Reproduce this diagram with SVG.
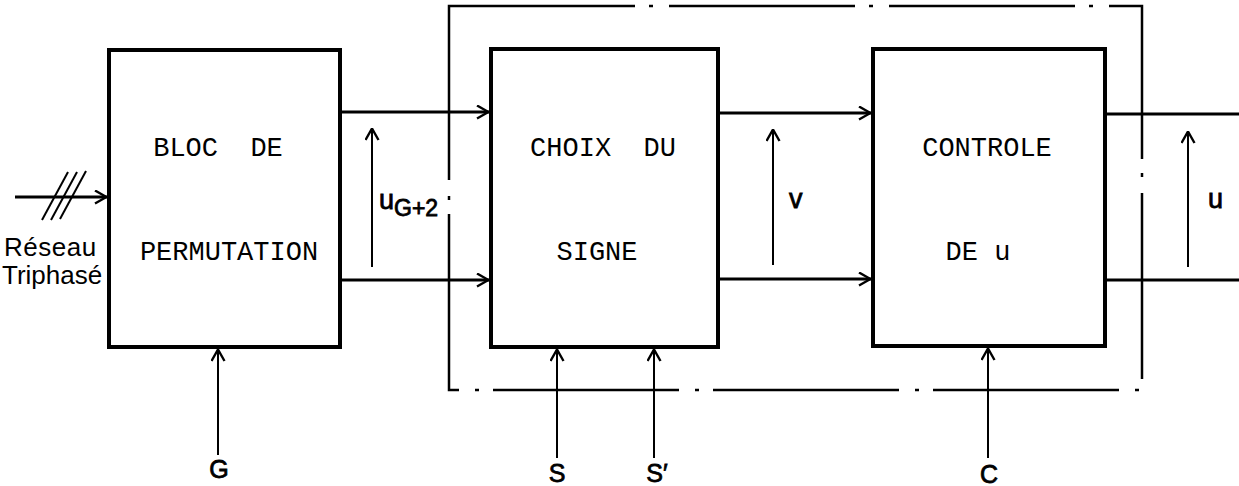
<svg xmlns="http://www.w3.org/2000/svg" width="1239" height="486" viewBox="0 0 1239 486">
<style>
.box{fill:#fff;stroke:#000;stroke-width:4}
.wire{stroke:#000;stroke-width:3;fill:none}
.thin{stroke:#000;stroke-width:2;fill:none}
.dd{fill:none;stroke:#000;stroke-width:2.5;stroke-dasharray:186 14 4 16}
.lbl{font-family:"Liberation Mono","DejaVu Sans Mono",monospace;font-size:27px;fill:#000;text-anchor:middle;white-space:pre}
.sym{font-family:"Liberation Sans",Arial,sans-serif;font-size:25px;fill:#000;stroke:#000;stroke-width:0.8;text-anchor:middle}
.var{font-family:"Liberation Sans",Arial,sans-serif;font-size:27px;fill:#000;stroke:#000;stroke-width:0.8}
.net{font-family:"Liberation Sans",Arial,sans-serif;font-size:26px;fill:#000}
</style>
<defs>
<marker id="ah" viewBox="0 0 13 15" refX="13" refY="7.5" markerWidth="13" markerHeight="15" markerUnits="userSpaceOnUse" orient="auto">
<path d="M1,1 L12.5,7.5 L1,14" fill="none" stroke="#000" stroke-width="2.4"/>
</marker>
</defs>
<g id="frame">
<rect class="dd" x="449" y="6" width="693" height="384"/>
</g>
<g id="bloc_permutation">
<rect class="box" x="109" y="50" width="231" height="297"/>
<text class="lbl" x="218" y="156" xml:space="preserve">BLOC  DE</text>
<text class="lbl" x="229" y="260">PERMUTATION</text>
</g>
<g id="choix_signe">
<rect class="box" x="491" y="49" width="227" height="298"/>
<text class="lbl" x="603" y="156" xml:space="preserve">CHOIX  DU</text>
<text class="lbl" x="597" y="260">SIGNE</text>
</g>
<g id="controle">
<rect class="box" x="873" y="49" width="232" height="297"/>
<text class="lbl" x="987" y="156">CONTROLE</text>
<text class="lbl" x="978" y="260">DE u</text>
</g>
<g id="connectors">
<line class="wire" x1="15" y1="197" x2="107" y2="197" marker-end="url(#ah)"/>
<line class="thin" x1="68" y1="172" x2="42" y2="220"/>
<line class="thin" x1="77" y1="172" x2="51" y2="220"/>
<line class="thin" x1="86" y1="171" x2="60" y2="219"/>
<line class="wire" x1="340" y1="112" x2="489" y2="112" marker-end="url(#ah)"/>
<line class="wire" x1="340" y1="280" x2="489" y2="280" marker-end="url(#ah)"/>
<line class="wire" x1="718" y1="113" x2="871" y2="113" marker-end="url(#ah)"/>
<line class="wire" x1="718" y1="279" x2="871" y2="279" marker-end="url(#ah)"/>
<line class="wire" x1="1105" y1="114" x2="1239" y2="114"/>
<line class="wire" x1="1105" y1="280" x2="1239" y2="280"/>
<line class="thin" x1="372" y1="267" x2="372" y2="128" marker-end="url(#ah)"/>
<line class="thin" x1="773" y1="265" x2="773" y2="129" marker-end="url(#ah)"/>
<line class="thin" x1="1188" y1="267" x2="1188" y2="131" marker-end="url(#ah)"/>
<line class="thin" x1="218" y1="455" x2="218" y2="349" marker-end="url(#ah)"/>
<line class="thin" x1="557" y1="458" x2="557" y2="349" marker-end="url(#ah)"/>
<line class="thin" x1="654" y1="458" x2="654" y2="349" marker-end="url(#ah)"/>
<line class="thin" x1="988" y1="458" x2="988" y2="348" marker-end="url(#ah)"/>
</g>
<g id="labels">
<text class="net" x="4" y="256" letter-spacing="0.5">Réseau</text>
<text class="net" x="2" y="284">Triphasé</text>
<text class="var" x="379" y="209">u<tspan font-size="23" dy="7">G+2</tspan></text>
<text class="var" x="789" y="208">v</text>
<text class="var" x="1208" y="208">u</text>
<text class="sym" x="219" y="478">G</text>
<text class="sym" x="557" y="482">S</text>
<text class="sym" x="657" y="482">S′</text>
<text class="sym" x="989" y="483">C</text>
</g>
</svg>
